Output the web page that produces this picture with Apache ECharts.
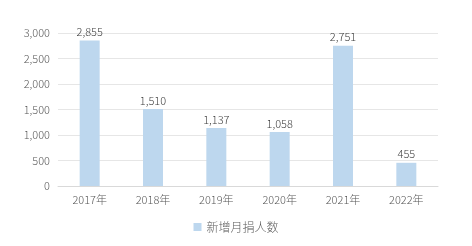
<!DOCTYPE html>
<html><head><meta charset="utf-8">
<script src="https://cdn.jsdelivr.net/npm/echarts@6/dist/echarts.min.js"></script>
<style>html,body{margin:0;padding:0;background:#fff}#c{width:472px;height:246px}</style>
</head><body><div id="c"></div>
<script>
const categories = ['2017年','2018年','2019年','2020年','2021年','2022年'];
const values = [2855, 1510, 1137, 1058, 2751, 455];
const seriesName = '新增月捐人数';
const chart = echarts.init(document.getElementById('c'));
const font = '"Noto Sans CJK SC", "Noto Sans", sans-serif';
chart.setOption({
  animation: false,
  textStyle: { fontFamily: font },
  grid: { left: 58, right: 34, top: 33, bottom: 60 },
  legend: {
    bottom: 8, left: 'center', itemWidth: 8, itemHeight: 8, itemGap: 6,
    icon: 'rect',
    textStyle: { color: '#595959', fontSize: 12, fontFamily: font, fontWeight: 300 },
    data: [seriesName]
  },
  xAxis: {
    type: 'category', data: categories,
    axisLine: { lineStyle: { color: '#d9d9d9' } },
    axisTick: { show: false },
    axisLabel: { color: '#595959', fontSize: 11, fontWeight: 300, margin: 8 }
  },
  yAxis: {
    type: 'value', min: 0, max: 3000, interval: 500,
    axisLine: { show: false }, axisTick: { show: false },
    splitLine: { lineStyle: { color: '#e6e6e6' } },
    axisLabel: { color: '#595959', fontSize: 11, fontWeight: 300, margin: 8,
      formatter: v => v.toLocaleString('en-US') }
  },
  series: [{
    name: seriesName, type: 'bar', data: values, barWidth: 20,
    itemStyle: { color: '#bdd7ee' },
    label: { show: true, position: 'top', color: '#404040', fontSize: 11, fontWeight: 300, distance: 3,
      formatter: p => p.value.toLocaleString('en-US') }
  }]
});
</script></body></html>
